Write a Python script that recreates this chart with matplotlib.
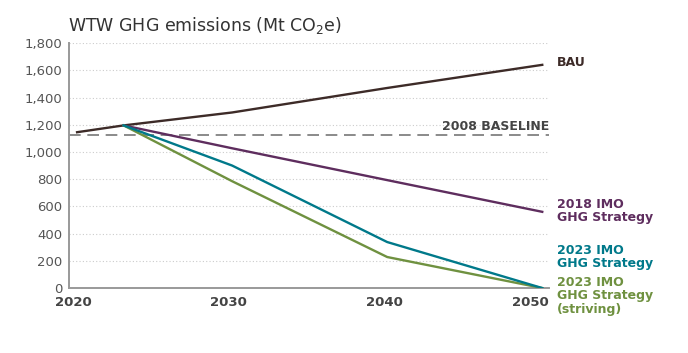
import numpy as np
import matplotlib
matplotlib.use("Agg")
import matplotlib.pyplot as plt
import matplotlib.transforms as mtransforms

plt.rcParams['font.family'] = ['DejaVu Sans']
plt.rcParams['mathtext.default'] = 'regular'

# data
years = [2020, 2023, 2030, 2040, 2050]
bau = [1145, 1195, 1290, 1470, 1640]
years_scen = [2023, 2030, 2040, 2050]
imo_2018 = [1195, 1027, 793, 560]
imo_2023 = [1195, 900, 338, 0]
imo_2023_striving = [1195, 785, 228, 0]
baseline_2008 = 1125

yticks = np.arange(0, 1801, 200)
xticks = [2020, 2030, 2040, 2050]

c_bau = '#3d2b28'
c_2018 = '#5e2d5e'
c_2023 = '#00798a'
c_str = '#6f9140'

fig = plt.figure(figsize=(6.88, 3.53), dpi=100)
ax = fig.add_axes([0.1003, 0.184, 0.698, 0.694])

ax.axhline(baseline_2008, color='#777777', lw=1.2, dashes=(7, 4), zorder=2)
ax.plot(years, bau, color=c_bau, lw=1.7, zorder=3)
ax.plot(years_scen, imo_2018, color=c_2018, lw=1.7, zorder=3)
ax.plot(years_scen, imo_2023_striving, color=c_str, lw=1.7, zorder=3)
ax.plot(years_scen, imo_2023, color=c_2023, lw=1.7, zorder=4)

ax.set_xlim(2019.48, 2050.45)
ax.set_ylim(0, 1800)
ax.set_yticks(yticks)
ax.set_yticklabels([f"{v:,}" for v in yticks], fontsize=9.5, color='#555555')
ax.set_xticks(xticks)
ax.set_xticklabels([str(x) for x in xticks], fontsize=9.5, color='#444444', fontweight='bold')
ax.tick_params(length=0, pad=5)
ax.tick_params(axis='x', pad=6)
ax.grid(axis='y', linestyle=(0, (1, 2)), color='#cccccc', lw=0.8)
ax.set_axisbelow(True)
for s in ['top', 'right']:
    ax.spines[s].set_visible(False)
for s in ['left', 'bottom']:
    ax.spines[s].set_color('#999999')
    ax.spines[s].set_linewidth(1.4)

# nudge year labels left, the last one clear of the series labels
for lab, dx in zip(ax.get_xticklabels(), [-4, -4, -3, -12]):
    lab.set_transform(lab.get_transform() + mtransforms.ScaledTranslation(dx / 100, 0, fig.dpi_scale_trans))

fig.text(68 / 688, 1 - 26 / 353, 'WTW GHG emissions (Mt CO$_2$e)', fontsize=12.5,
         color='#333333', va='center', ha='left')

ax.text(2050.45, baseline_2008 + 15, '2008 BASELINE', ha='right', va='bottom',
        fontsize=9, fontweight='bold', color='#444444')

lx = 557 / 688
def label(y_px, txt, col):
    fig.text(lx, 1 - y_px / 353, txt, fontsize=9, fontweight='bold', color=col,
             ha='left', va='center', linespacing=1.05)

label(62, 'BAU', c_bau)
label(211, '2018 IMO\nGHG Strategy', c_2018)
label(257, '2023 IMO\nGHG Strategy', c_2023)
label(296, '2023 IMO\nGHG Strategy\n(striving)', c_str)

fig.savefig('out.png', dpi=100)
